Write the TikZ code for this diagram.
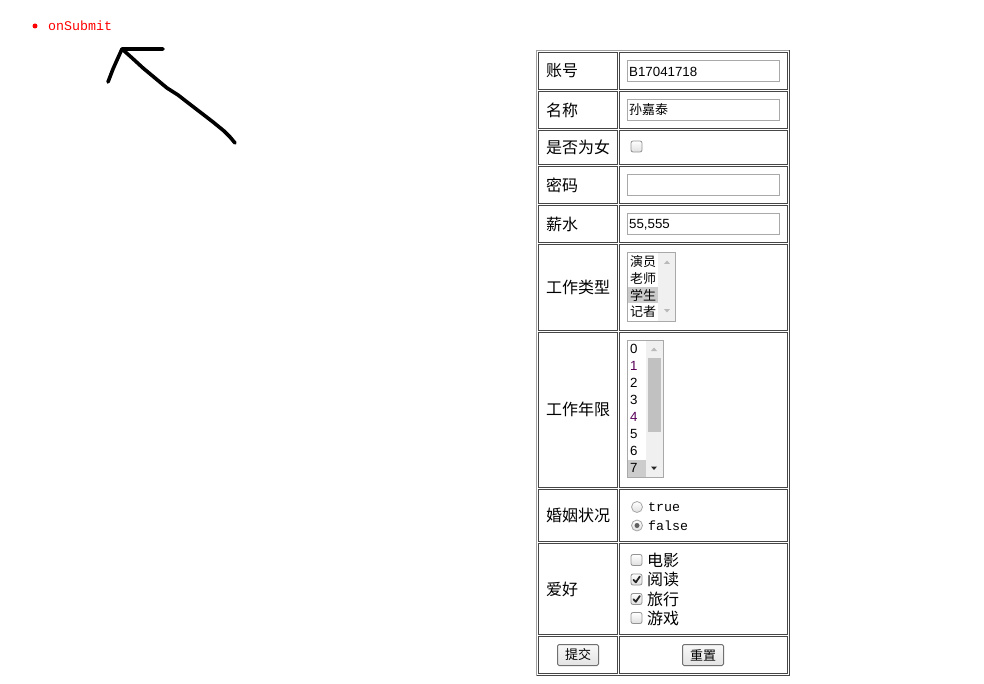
\documentclass[tikz,border=0pt]{standalone}
\usepackage{fontspec}
\setmainfont{Liberation Sans}
\newfontfamily\cjk{Noto Sans CJK SC}
\newfontfamily\monof{Liberation Mono}
\definecolor{cellb}{RGB}{70,70,70}
\definecolor{olight}{RGB}{160,160,160}
\definecolor{odark}{RGB}{70,70,70}
\definecolor{inb}{RGB}{169,169,169}
\definecolor{sbar}{RGB}{240,240,240}
\definecolor{selbg}{RGB}{204,204,204}
\definecolor{thumb}{RGB}{193,193,193}
\definecolor{btnb}{RGB}{112,112,112}
\begin{document}
\begin{tikzpicture}[x=1pt,y=-1pt,
  lab/.style={anchor=west,inner sep=0pt,font=\cjk\fontsize{16}{16}\selectfont},
  inp/.style={draw=inb,line width=1pt,fill=white},
  intext/.style={anchor=west,inner sep=0pt,font=\fontsize{13.3}{13.3}\selectfont},
  cjksmall/.style={anchor=west,inner sep=0pt,font=\cjk\fontsize{13}{13}\selectfont},
  monotext/.style={anchor=west,inner sep=0pt,font=\monof\fontsize{13.3}{13.3}\selectfont},
  cbox/.style={draw=gray!85,line width=0.8pt,rounded corners=2pt,top color=white,bottom color=gray!25},
  radio/.style={draw=gray!70,line width=0.8pt,top color=white,bottom color=gray!25},
  btn/.style={draw=btnb,line width=1pt,rounded corners=1.5pt,top color=gray!5,bottom color=gray!22},
  pen/.style={line width=3.6pt,line cap=round,line join=round}]
\useasboundingbox (0,0) rectangle (984,684);
\fill[white] (0,0) rectangle (984,684);

% bullet + onSubmit
\fill[red] (35,26) circle (2.5);
\node[monotext,text=red] (sub) at (48,26) {onSubmit};

% hand-drawn arrow
\draw[pen] (163,49) -- (122,49) -- (117,60) -- (113,69) -- (108,82);
\draw[pen] (122,49) -- (131,57) -- (143,68) -- (155,78) -- (167,88) -- (178,95) -- (187,102) -- (200,112) -- (213,122) -- (224,131) -- (230,137) -- (235,143);

% outer table border
\draw[olight,line width=1pt] (536.5,675.5) -- (536.5,50.5) -- (789.5,50.5);
\draw[odark,line width=1pt] (789.5,50.5) -- (789.5,675.5) -- (536.5,675.5);

% cells
\foreach \t/\b in {52/89,91/128,130/164,166/203,205/242,244/330,332/487,489/541,543/634,636/673}{
  \draw[cellb,line width=1pt] (538.5,\t+0.5) rectangle (617.5,\b+0.5);
  \draw[cellb,line width=1pt] (619.5,\t+0.5) rectangle (787.5,\b+0.5);
}

% labels
\node[lab] (l1) at (546,71) {账号};
\node[lab] (l2) at (546,110) {名称};
\node[lab] (l3) at (546,147) {是否为女};
\node[lab] (l4) at (546,185) {密码};
\node[lab] (l5) at (546,224) {薪水};
\node[lab] (l6) at (546,287) {工作类型};
\node[lab] (l7) at (546,409) {工作年限};
\node[lab] (l8) at (546,515) {婚姻状况};
\node[lab] (l9) at (546,589) {爱好};

% text inputs
\draw[inp] (627.5,60.5) rectangle (779.5,81.5);
\node[intext] (v1) at (629,71.5) {B17041718};
\draw[inp] (627.5,99.5) rectangle (779.5,120.5);
\node[cjksmall] (v2) at (629,110) {孙嘉泰};
\draw[cbox] (631,141) rectangle (642,152);
\draw[inp] (627.5,174.5) rectangle (779.5,195.5);
\draw[inp] (627.5,213.5) rectangle (779.5,234.5);
\node[intext] (v5) at (629,224.5) {55,555};

% listbox 1
\draw[inp] (627.5,252.5) rectangle (675.5,321.5);
\fill[sbar] (658,253) rectangle (675,321);
\fill[selbg] (628,287) rectangle (658,303);
\node[cjksmall] (o1) at (630,262) {演员};
\node[cjksmall] (o2) at (630,278.5) {老师};
\node[cjksmall] (o3) at (630,295) {学生};
\node[cjksmall] (o4) at (630,311.5) {记者};
\fill[gray!55] (664,264) -- (670,264) -- (667,260.5) -- cycle;
\fill[gray!55] (664,309) -- (670,309) -- (667,312.5) -- cycle;

% listbox 2
\draw[inp] (627.5,340.5) rectangle (663.5,477.5);
\fill[sbar] (646,341) rectangle (663,477);
\fill[thumb] (648,358) rectangle (661,432);
\fill[selbg] (628,460) rectangle (646,477);
\foreach \n/\c [count=\i from 0] in {0/black,1/violet!70!black,2/black,3/black,4/violet!70!black,5/black,6/black,7/black}{
  \node[intext,text=\c] (y\i) at (630,349+17*\i) {\n};
}
\fill[gray!55] (651,351) -- (657,351) -- (654,347.5) -- cycle;
\fill[gray!30!black] (651,466.5) -- (657,466.5) -- (654,470) -- cycle;

% radios
\shade[radio] (637,507) circle (5.5);
\shade[radio] (637,525.5) circle (5.5);
\fill[gray!75!black] (637,525.5) circle (2.5);
\node[monotext] (rt) at (648,507) {true};
\node[monotext] (rf) at (648,525.5) {false};

% hobby checkboxes
\foreach \yy/\txt/\ck [count=\i] in {560/电影/0,579.5/阅读/1,599/旅行/1,618/游戏/0}{
  \draw[cbox] (631,\yy-5.5) rectangle (642,\yy+5.5);
  \ifnum\ck=1
    \draw[line width=1.8pt,black!85,line cap=round,line join=round] (633.5,\yy+0.3) -- (635.8,\yy+2.8) -- (639.8,\yy-3);
  \fi
  \node[lab] (h\i) at (647,\yy) {\txt};
}

% buttons
\shade[btn] (557.5,644.5) rectangle (598.5,665.5);
\node[cjksmall,anchor=center] (b1) at (578,655) {提交};
\shade[btn] (682.5,644.5) rectangle (723.5,665.5);
\node[cjksmall,anchor=center] (b2) at (703,655) {重置};
\end{tikzpicture}
\end{document}
